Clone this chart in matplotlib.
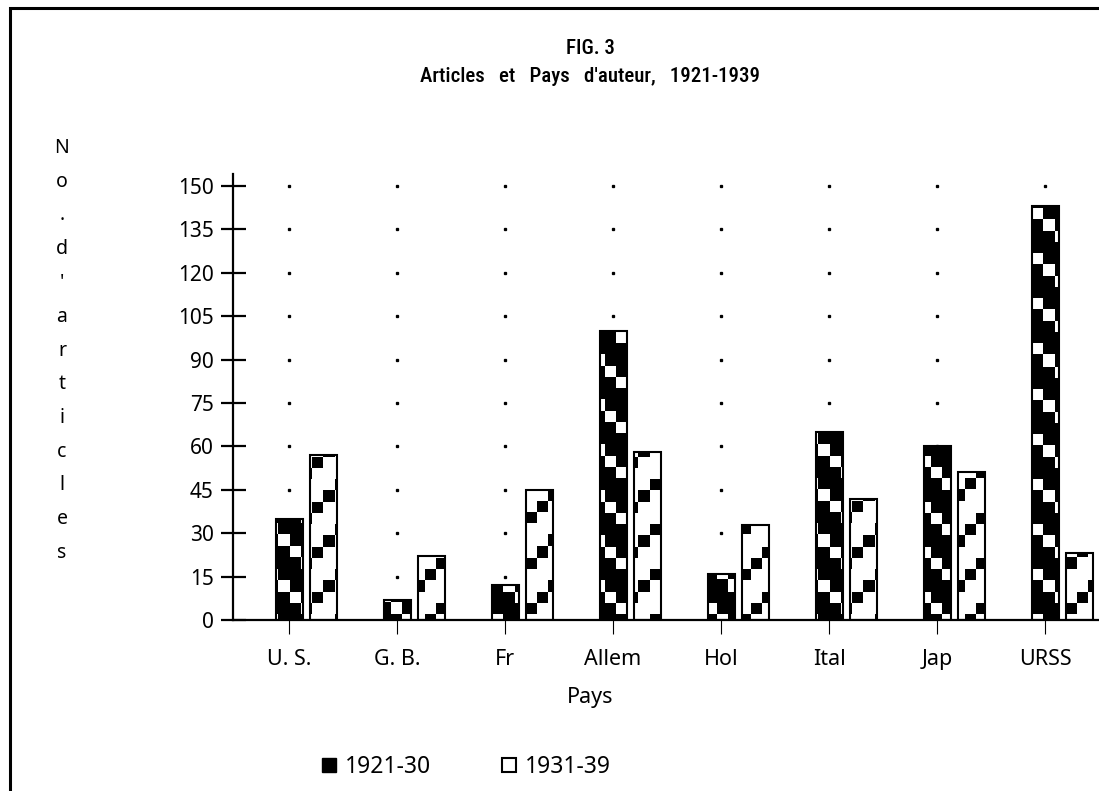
import numpy as np
import matplotlib
matplotlib.use("Agg")
import matplotlib.pyplot as plt
from matplotlib.patches import Patch, Rectangle
from matplotlib import font_manager

plt.rcParams['font.family'] = ['Noto Sans', 'DejaVu Sans']

# data
pays = ["U. S.", "G. B.", "Fr", "Allem", "Hol", "Ital", "Jap", "URSS"]
art_1921_30 = [35, 7, 12, 100, 16, 65, 60, 143]
art_1931_39 = [57, 22, 45, 58, 33, 42, 51, 23]
y_ticks = [0, 15, 30, 45, 60, 75, 90, 105, 120, 135, 150]
series = ["1921-30", "1931-39"]

# look for a narrow face for the title
names = {(f.name, str(f.stretch)) for f in font_manager.fontManager.ttflist}
title_font = dict(family=['Noto Sans', 'DejaVu Sans'], fontsize=13.5)
spaces = "  "
for fam in ['Liberation Sans Narrow', 'Roboto Condensed', 'Open Sans Condensed', 'Noto Sans Condensed']:
    if any(n == fam for n, _ in names):
        title_font = dict(family=[fam, 'DejaVu Sans'], fontsize=15, fontweight='medium')
        spaces = "   "
        break
else:
    if any(n == 'DejaVu Sans' and s in ('condensed', '0.75', 'semi-condensed') for n, s in names):
        title_font = dict(family=['DejaVu Sans'], fontstretch='condensed', fontsize=14)
        spaces = "  "

W, H = 1099, 791
fig = plt.figure(figsize=(W / 100, H / 100), dpi=100)

# axes placed in pixels (left 233, right past the edge, baseline at 620)
ax_l, ax_r, ax_top, ax_bot = 233, 1105, 174.5, 620
ax = fig.add_axes([ax_l / W, 1 - ax_bot / H, (ax_r - ax_l) / W, (ax_bot - ax_top) / H])

x = np.arange(len(pays))
bw = 0.25
off = 0.315

# dotted grid: one dot per category per y tick
gx, gy = np.meshgrid(x, y_ticks[1:])
ax.plot(gx.ravel(), gy.ravel(), ls='none', marker='s', ms=1.4, color='black', zorder=1)

b1 = ax.bar(x, art_1921_30, bw, facecolor='none', edgecolor='black', lw=1.5, zorder=3)
b2 = ax.bar(x + off, art_1931_39, bw, facecolor='none', edgecolor='black', lw=1.5, zorder=3)

# checker staircase patterns clipped to the bars
w_px, h_px = ax_r - ax_l, int(ax_bot - ax_top)
cell = 11.25
rr, cc = np.indices((h_px, w_px))
rr = (rr // cell).astype(int)
cc = (cc // cell).astype(int)
pat_dark = np.where((cc - rr) % 4 == 0, 1.0, 0.0)   # white steps on black
pat_light = np.where((cc + rr) % 4 == 0, 0.0, 1.0)  # black steps on white

for bars, pat in [(b1, pat_dark), (b2, pat_light)]:
    for b in bars:
        im = ax.imshow(pat, cmap='gray', vmin=0, vmax=1, extent=(0, 1, 0, 1),
                       transform=ax.transAxes, aspect='auto',
                       interpolation='nearest', zorder=2)
        im.set_clip_path(b)

ax.set_xlim(-(289 - 233) / 108, -(289 - 233) / 108 + (ax_r - ax_l) / 108)
ax.set_ylim(0, 154)
ax.set_yticks(y_ticks)
ax.set_xticks(x)
ax.set_xticklabels(pays)

for s in ['top', 'right']:
    ax.spines[s].set_visible(False)
ax.spines['left'].set_linewidth(1.6)
ax.spines['bottom'].set_linewidth(1.6)
ax.tick_params(axis='y', direction='inout', length=18, width=1.6, pad=5, labelsize=15)
ax.tick_params(axis='x', direction='out', length=10, width=0.8, pad=11, labelsize=15.5)

# titles
fig.text(590 / W, 1 - 48 / H, "FIG. 3", ha='center', va='center', **title_font)
fig.text(590 / W, 1 - 76 / H,
         spaces.join(["Articles", "et", "Pays", "d'auteur,", "1921-1939"]),
         ha='center', va='center', **title_font)

# vertical y label, one letter per line
ylab = "No.d'articles"
for i, ch in enumerate(ylab):
    fig.text(62 / W, 1 - (148 + i * 33.75) / H, ch, ha='center', va='center', fontsize=14)

fig.text(590 / W, 1 - 697 / H, "Pays", ha='center', va='center', fontsize=15.5)

handles = [Patch(facecolor='black', edgecolor='black'),
           Patch(facecolor='white', edgecolor='black', lw=1.5)]
fig.legend(handles, series, loc='center left', bbox_to_anchor=(322 / W, 1 - 767 / H),
           ncol=2, frameon=False, fontsize=16.5, handlelength=0.6, handleheight=0.6,
           handletextpad=0.4, columnspacing=3.1, borderaxespad=0, borderpad=0)

# outer frame, right and bottom edges fall outside the picture
fig.patches.append(Rectangle((10 / W, -0.2), 1.2, 1 - 8 / H + 0.2, fill=False,
                             lw=2.2, edgecolor='black', transform=fig.transFigure))

fig.savefig("out.png", dpi=100)
